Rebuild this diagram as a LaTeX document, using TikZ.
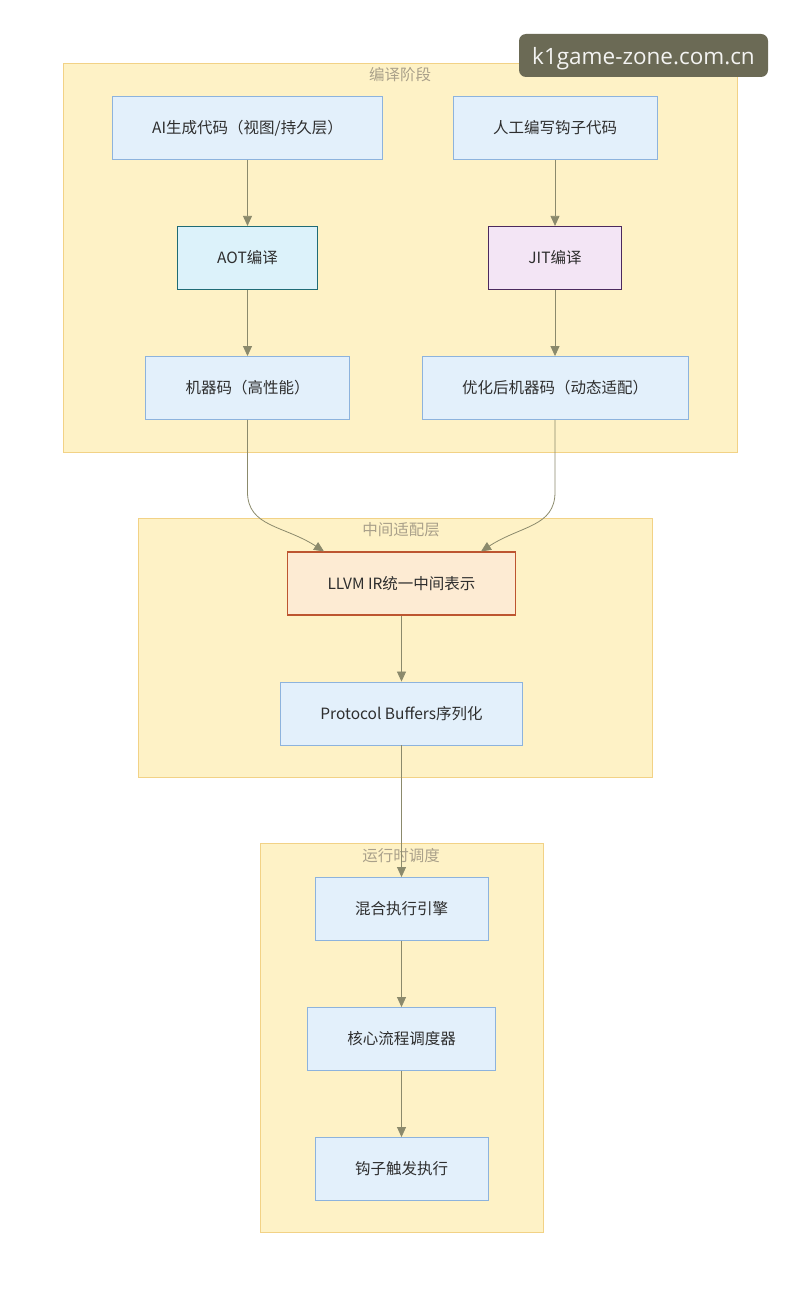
\documentclass[tikz,border=0pt]{standalone}
\usepackage{fontspec}
\setmainfont{Noto Sans CJK SC}
\newfontfamily\markfont{Open Sans}
\usetikzlibrary{positioning,arrows.meta}

\definecolor{groupfill}{HTML}{FEF2C6}
\definecolor{groupline}{HTML}{F2D286}
\definecolor{grouptext}{HTML}{A9A08A}
\definecolor{nodefill}{HTML}{E3F0FB}
\definecolor{nodeline}{HTML}{8DB3DD}
\definecolor{aotfill}{HTML}{DCF2FA}
\definecolor{aotline}{HTML}{1F6B75}
\definecolor{jitfill}{HTML}{F3E5F5}
\definecolor{jitline}{HTML}{4B2A5E}
\definecolor{irfill}{HTML}{FDEBD3}
\definecolor{irline}{HTML}{BD5530}
\definecolor{linkcol}{HTML}{8B8A6C}
\definecolor{textcol}{HTML}{2E2E2E}
\definecolor{markfill}{HTML}{6B6A55}

\begin{document}
\begin{tikzpicture}[
			x=1pt, y=-1pt,
			node distance=130pt,
			main/.style = {draw=nodeline, fill=nodefill, line width=0.9pt, minimum height=63pt, inner xsep=40pt, text=textcol, font=\fontsize{15.5}{18}\selectfont},
			group/.style = {draw=groupline, fill=groupfill, line width=0.9pt},
			title/.style = {text=grouptext, font=\fontsize{15.5}{18}\selectfont, inner sep=0pt},
			link/.style = {draw=linkcol, line width=0.8pt, -{Triangle[length=10pt, width=9pt]}}
		]
		\fill[white] (0,0) rectangle (800,1297);
		\useasboundingbox (0,0) rectangle (800,1297);
		% Groups.
		\draw[group] (63,63) rectangle (737,452);
		\draw[group] (138,518) rectangle (652,777);
		\draw[group] (260,843) rectangle (543,1232);
		\node[title] (g1) at (400,75) {编译阶段};
		\node[title] (g2) at (401,530) {中间适配层};
		\node[title] (g3) at (401,856) {运行时调度};
		% Compile stage.
		\node[main] (ai) at (247.5,128) {AI生成代码（视图/持久层）};
		\node[main, below of=ai, draw=aotline, fill=aotfill, line width=1.2pt] (aot) {AOT编译};
		\node[main, below of=aot] (jqm) {机器码（高性能）};
		\node[main] (hook) at (555,128) {人工编写钩子代码};
		\node[main, below of=hook, draw=jitline, fill=jitfill, line width=1.2pt] (jit) {JIT编译};
		\node[main, below of=jit] (opt) {优化后机器码（动态适配）};
		% Middle layer.
		\node[main, draw=irline, fill=irfill, line width=1.2pt] (ir) at (401.5,583.5) {LLVM IR统一中间表示};
		\node[main, below of=ir] (pb) {Protocol Buffers序列化};
		% Runtime.
		\node[main] (eng) at (401.5,909) {混合执行引擎};
		\node[main, below of=eng] (sch) {核心流程调度器};
		\node[main, below of=sch] (trg) {钩子触发执行};

		\draw[link] (ai) to (aot);
		\draw[link] (aot) to (jqm);
		\draw[link] (hook) to (jit);
		\draw[link] (jit) to (opt);
		\draw[link] (jqm.south) -- ++(0,72) .. controls +(0,35) and +(-40,-26) .. ([xshift=37pt]ir.north west);
		\draw[link] (opt.south) -- ++(0,72) .. controls +(0,35) and +(40,-26) .. ([xshift=-35pt]ir.north east);
		\draw[link] (ir) to (pb);
		\draw[link] (pb) to (eng);
		\draw[link] (eng) to (sch);
		\draw[link] (sch) to (trg);

		\node[fill=markfill, rounded corners=7pt, minimum width=249pt, minimum height=43pt, text height=18pt, text depth=0pt, text=white!92!markfill, font=\markfont\fontsize{22.5}{26}\selectfont] (wm) at (643.5,55.5) {k1game-zone.com.cn};
	\end{tikzpicture}
\end{document}
